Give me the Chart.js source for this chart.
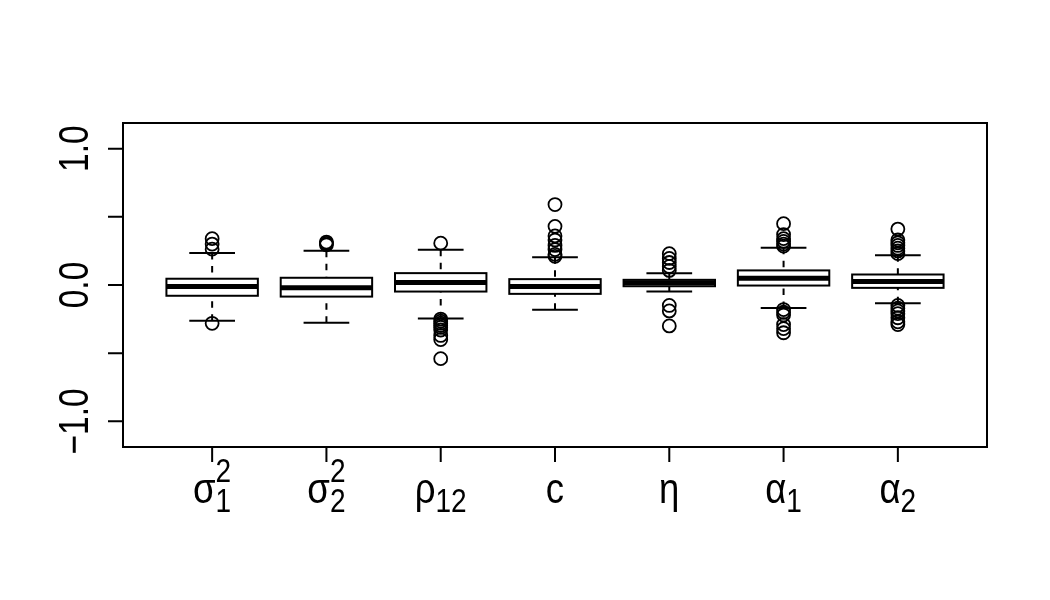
<!DOCTYPE html>
<html>
<head>
<meta charset="utf-8">
<script src="https://cdn.jsdelivr.net/npm/chart.js@4.4.1/dist/chart.umd.min.js"></script>
<style>
  body { margin: 0; background: #fff; }
  #wrap { width: 1050px; height: 600px; }
</style>
</head>
<body>
<div id="wrap"><canvas id="myChart" width="1050" height="600"></canvas></div>
<script>
var my_canva = document.getElementById('myChart');

// parameter names: [symbol, subscript, superscript]
const param_labels = [["σ", "1", "2"], ["σ", "2", "2"], ["ρ", "12", ""], ["c", "", ""],
                      ["η", "", ""], ["α", "1", ""], ["α", "2", ""]];
const positions = [1, 2, 3, 4, 5, 6, 7];

// box stats
const whisker_low = [-0.263, -0.276, -0.246, -0.182, -0.048, -0.168, -0.134];
const quart_low   = [-0.079, -0.085, -0.048, -0.065, -0.009, -0.004, -0.021];
const medians     = [-0.011, -0.021,  0.018, -0.011,  0.016,  0.050,  0.026];
const quart_high  = [ 0.046,  0.053,  0.087,  0.043,  0.038,  0.107,  0.077];
const whisker_high= [ 0.234,  0.252,  0.259,  0.204,  0.087,  0.273,  0.219];

const outliers = [
    [0.34, 0.30, 0.263, -0.281],
    [0.315, 0.305, 0.295],
    [0.307, -0.25, -0.265, -0.28, -0.295, -0.31, -0.33, -0.37, -0.40, -0.54],
    [0.59, 0.43, 0.36, 0.33, 0.29, 0.26, 0.225, 0.21],
    [0.23, 0.195, 0.165, 0.136, 0.107, -0.15, -0.19, -0.30],
    [0.45, 0.37, 0.34, 0.32, 0.30, 0.285, -0.18, -0.20, -0.22, -0.29, -0.32, -0.35],
    [0.41, 0.33, 0.31, 0.29, 0.27, 0.25, 0.23, -0.15, -0.17, -0.19, -0.21, -0.24, -0.27, -0.29]
];

const y_ticks = [-1, -0.5, 0, 0.5, 1];
const y_tick_labels = {"-1": "\u22121.0", "0": "0.0", "1": "1.0"};

const FONT = '"Liberation Sans", Arial, sans-serif';

//flatten outliers into scatter points
var outlier_points = [];
for(var i=0; i<outliers.length; i++){
    for(var k=0; k<outliers[i].length; k++){
        outlier_points.push({x: positions[i], y: outliers[i][k]});
    }
}

// boxes, whiskers, frame, axes drawn through the chart scales
const boxPlugin = {
    id: 'boxes',
    beforeDatasetsDraw(chart) {
        const ctx = chart.ctx;
        const xs = chart.scales.x, ys = chart.scales.y;
        ctx.save();
        ctx.strokeStyle = '#000';
        for(var i=0; i<positions.length; i++){
            var xc = xs.getPixelForValue(positions[i]);
            var half = xs.getPixelForValue(positions[i] + 0.4) - xc;
            var cap = half / 2;
            var yq1 = ys.getPixelForValue(quart_low[i]);
            var yq3 = ys.getPixelForValue(quart_high[i]);
            var ymed = ys.getPixelForValue(medians[i]);
            var ylo = ys.getPixelForValue(whisker_low[i]);
            var yhi = ys.getPixelForValue(whisker_high[i]);

            // dashed whiskers
            ctx.lineWidth = 2;
            ctx.setLineDash([6.5, 6.5]);
            ctx.beginPath();
            ctx.moveTo(xc, yhi); ctx.lineTo(xc, yq3);
            ctx.moveTo(xc, ylo); ctx.lineTo(xc, yq1);
            ctx.stroke();
            ctx.setLineDash([]);

            // staples
            ctx.beginPath();
            ctx.moveTo(xc - cap, yhi); ctx.lineTo(xc + cap, yhi);
            ctx.moveTo(xc - cap, ylo); ctx.lineTo(xc + cap, ylo);
            ctx.stroke();

            // box
            ctx.fillStyle = '#fff';
            ctx.fillRect(xc - half, yq3, 2 * half, yq1 - yq3);
            ctx.strokeRect(xc - half, yq3, 2 * half, yq1 - yq3);

            // median
            ctx.lineWidth = 5;
            ctx.beginPath();
            ctx.moveTo(xc - half, ymed); ctx.lineTo(xc + half, ymed);
            ctx.stroke();
        }
        ctx.restore();
    },
    afterDraw(chart) {
        const ctx = chart.ctx;
        const xs = chart.scales.x, ys = chart.scales.y;
        const area = chart.chartArea;
        ctx.save();
        ctx.strokeStyle = '#000';
        ctx.fillStyle = '#000';
        ctx.lineWidth = 2;
        // frame
        ctx.strokeRect(area.left, area.top, area.right - area.left, area.bottom - area.top);

        // y ticks and labels
        ctx.beginPath();
        for(var t=0; t<y_ticks.length; t++){
            var yy = ys.getPixelForValue(y_ticks[t]);
            ctx.moveTo(area.left - 15, yy); ctx.lineTo(area.left, yy);
        }
        ctx.stroke();
        ctx.font = '42px ' + FONT;
        ctx.textAlign = 'center';
        ctx.textBaseline = 'alphabetic';
        for(var t=0; t<y_ticks.length; t++){
            var lab = y_tick_labels[String(y_ticks[t])];
            if (!lab) continue;
            var yy = ys.getPixelForValue(y_ticks[t]);
            ctx.save();
            ctx.translate(area.left - 35, yy);
            ctx.rotate(-Math.PI / 2);
            ctx.scale(0.8, 1); // narrow face like the original
            ctx.fillText(lab, 0, 0);
            ctx.restore();
        }

        // x ticks and labels
        ctx.beginPath();
        for(var i=0; i<positions.length; i++){
            var xx = xs.getPixelForValue(positions[i]);
            ctx.moveTo(xx, area.bottom); ctx.lineTo(xx, area.bottom + 15);
        }
        ctx.stroke();
        ctx.textAlign = 'left';
        var base = area.bottom + 56;
        for(var i=0; i<positions.length; i++){
            var xx = xs.getPixelForValue(positions[i]);
            var lab = param_labels[i];
            ctx.save();
            ctx.translate(xx, base);
            ctx.scale(0.85, 1);
            ctx.font = '43px ' + FONT;
            var w0 = ctx.measureText(lab[0]).width;
            ctx.font = '33px ' + FONT;
            var w1 = lab[1] ? ctx.measureText(lab[1]).width : 0;
            var w2 = lab[2] ? ctx.measureText(lab[2]).width : 0;
            var total = w0 + Math.max(w1, w2);
            var x0 = -total / 2;
            ctx.font = '43px ' + FONT;
            ctx.fillText(lab[0], x0, 0);
            ctx.font = '33px ' + FONT;
            if (lab[1]) ctx.fillText(lab[1], x0 + w0, 9);
            if (lab[2]) ctx.fillText(lab[2], x0 + w0, -21);
            ctx.restore();
        }
        ctx.restore();
    }
};

const data = {
    datasets: [{
        label: 'outliers',
        data: outlier_points,
        pointStyle: 'circle',
        pointRadius: 6.5,
        pointBorderWidth: 1.8,
        pointBorderColor: '#000',
        pointBackgroundColor: 'rgba(0,0,0,0)'
    }]
};

const config = {
    type: 'scatter',
    data: data,
    options: {
        responsive: false,
        animation: false,
        layout: { padding: { left: 123, top: 123, right: 63, bottom: 153 } },
        plugins: { legend: { display: false }, tooltip: { enabled: false } },
        scales: {
            x: { type: 'linear', min: 0.22, max: 7.78, display: false },
            y: { type: 'linear', min: -1.188, max: 1.188, display: false }
        }
    },
    plugins: [boxPlugin]
};

const box_chart = new Chart(my_canva, config);
</script>
</body>
</html>
